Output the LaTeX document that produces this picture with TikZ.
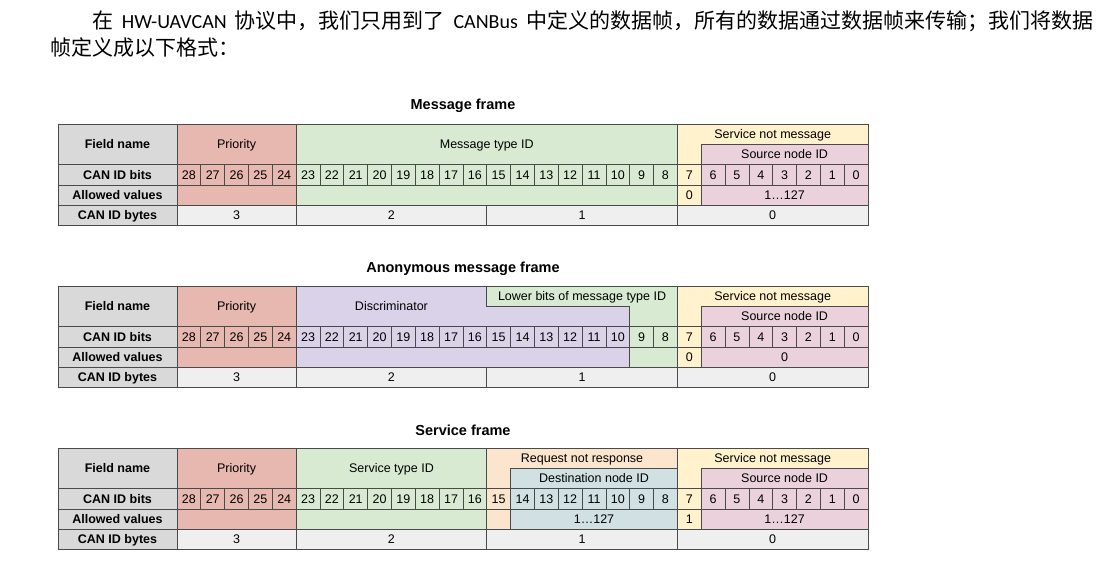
\documentclass[tikz,border=0pt]{standalone}
\usepackage{fontspec}
\setmainfont{Liberation Sans}
\newfontfamily\cjkfont{Noto Sans CJK SC}
\newfontfamily\calibfont{Carlito}
\definecolor{hdrc}{HTML}{D9D9D9}
\definecolor{prioc}{HTML}{E6B8AF}
\definecolor{greenc}{HTML}{D9EAD3}
\definecolor{snmc}{HTML}{FFF2CC}
\definecolor{srcc}{HTML}{EAD1DC}
\definecolor{purc}{HTML}{D9D2E9}
\definecolor{orgc}{HTML}{FCE5CD}
\definecolor{bluc}{HTML}{D0E0E3}
\definecolor{bytec}{HTML}{EFEFEF}
\definecolor{linec}{HTML}{4A4A4A}
\tikzset{
  gl/.style={draw=linec, line width=0.7pt},
  tx/.style={font=\fontsize{12.5}{14}\selectfont, inner sep=0pt, text height=9pt, text depth=0pt},
  hd/.style={tx, font=\bfseries\fontsize{12.5}{14}\selectfont},
  ttl/.style={font=\bfseries\fontsize{14.5}{16}\selectfont, inner sep=0pt, text height=10.5pt, text depth=0pt},
  para/.style={inner sep=0pt, anchor=base west}
}
\newcommand\cjkt{\cjkfont\fontsize{21}{24}\selectfont}
\newcommand\latt{\calibfont\fontsize{20}{24}\selectfont}
\newcommand\tblcommonfills{%
  \fill[hdrc] (58,0) rectangle (177,101.5);
  \fill[prioc] (177,0) rectangle (296.14,81.2);
  \fill[bytec] (177,81.2) rectangle (868,101.5);
  \fill[snmc] (677.38,0) rectangle (868,81.2);
  \fill[srcc] (701.21,20.3) rectangle (868,81.2);
}
\newcommand\tblcommonlines{%
  \draw[gl] (58,40.6) -- (868,40.6);
  \draw[gl] (58,60.9) -- (868,60.9);
  \draw[gl] (58,81.2) -- (868,81.2);
  \draw[gl] (177,0) -- (177,101.5);
  \draw[gl] (296.14,0) -- (296.14,101.5);
  \draw[gl] (677.38,0) -- (677.38,101.5);
  \draw[gl] (486.76,81.2) -- (486.76,101.5);
  \draw[gl] (701.21,81.2) -- (701.21,20.3) -- (868,20.3);
  \foreach \i in {1,...,28} \draw[gl] ({177+\i*23.8276},40.6) -- ({177+\i*23.8276},60.9);
  \draw[gl] (58,0) rectangle (868,101.5);
}
\newcommand\tblcommontexts[3]{%
  \node[hd] (#1fn) at (117.5,20.3) {Field name};
  \node[hd] (#1bits) at (117.5,50.75) {CAN ID bits};
  \node[hd] (#1av) at (117.5,71.05) {Allowed values};
  \node[hd] (#1by) at (117.5,91.35) {CAN ID bytes};
  \node[tx] (#1prio) at (236.57,20.3) {Priority};
  \node[tx] (#1snm) at (772.69,10.15) {Service not message};
  \node[tx] (#1src) at (784.6,30.45) {Source node ID};
  \node[tx] (#1v7) at (689.3,71.05) {#2};
  \node[tx] (#1vsrc) at (784.6,71.05) {#3};
  \node[tx] (#1y3) at (236.57,91.35) {3};
  \node[tx] (#1y2) at (391.45,91.35) {2};
  \node[tx] (#1y1) at (582.07,91.35) {1};
  \node[tx] (#1y0) at (772.69,91.35) {0};
  \foreach \b in {0,...,28} \node[tx] (#1b\b) at ({177+(28-\b)*23.8276+11.9138},50.75) {\b};
}
\begin{document}
\begin{tikzpicture}[x=1pt,y=-1pt]
\useasboundingbox (0,0) rectangle (1117,561);
\fill[white] (0,0) rectangle (1117,561);

% paragraph
\node[para] (p1) at (92,29) {\makebox[1001pt][s]{\cjkt 在 \latt HW-UAVCAN \cjkt 协议中，我们只用到了 \latt CANBus \cjkt 中定义的数据帧，所有的数据通过数据帧来传输；我们将数据}};
\node[para] (p2) at (50,56) {\cjkt 帧定义成以下格式：};

% ---------- Message frame ----------
\node[ttl] (t1) at (463,104) {Message frame};
\begin{scope}[shift={(0,124)}]
  \tblcommonfills
  \fill[greenc] (296.14,0) rectangle (677.38,81.2);
  \tblcommonlines
  \tblcommontexts{m}{0}{1…127}
  \node[tx] (mmt) at (486.76,20.3) {Message type ID};
\end{scope}

% ---------- Anonymous message frame ----------
\node[ttl] (t2) at (463,267) {Anonymous message frame};
\begin{scope}[shift={(0,286)}]
  \tblcommonfills
  \fill[purc] (296.14,0) -- (486.76,0) -- (486.76,20.3) -- (629.72,20.3) -- (629.72,81.2) -- (296.14,81.2) -- cycle;
  \fill[greenc] (486.76,0) -- (677.38,0) -- (677.38,81.2) -- (629.72,81.2) -- (629.72,20.3) -- (486.76,20.3) -- cycle;
  \tblcommonlines
  \draw[gl] (486.76,0) -- (486.76,20.3) -- (629.72,20.3) -- (629.72,81.2);
  \tblcommontexts{a}{0}{0}
  \node[tx] (adisc) at (391.45,20.3) {Discriminator};
  \node[tx] (alow) at (582.07,10.15) {Lower bits of message type ID};
\end{scope}

% ---------- Service frame ----------
\node[ttl] (t3) at (463,430) {Service frame};
\begin{scope}[shift={(0,448)}]
  \tblcommonfills
  \fill[greenc] (296.14,0) rectangle (486.76,81.2);
  \fill[orgc] (486.76,0) rectangle (677.38,81.2);
  \fill[bluc] (510.59,20.3) rectangle (677.38,81.2);
  \tblcommonlines
  \draw[gl] (486.76,0) -- (486.76,81.2);
  \draw[gl] (510.59,81.2) -- (510.59,20.3) -- (677.38,20.3);
  \tblcommontexts{s}{1}{1…127}
  \node[tx] (sst) at (391.45,20.3) {Service type ID};
  \node[tx] (srnr) at (582.07,10.15) {Request not response};
  \node[tx] (sdst) at (594.0,30.45) {Destination node ID};
  \node[tx] (sdv) at (594.0,71.05) {1…127};
\end{scope}
\end{tikzpicture}
\end{document}
